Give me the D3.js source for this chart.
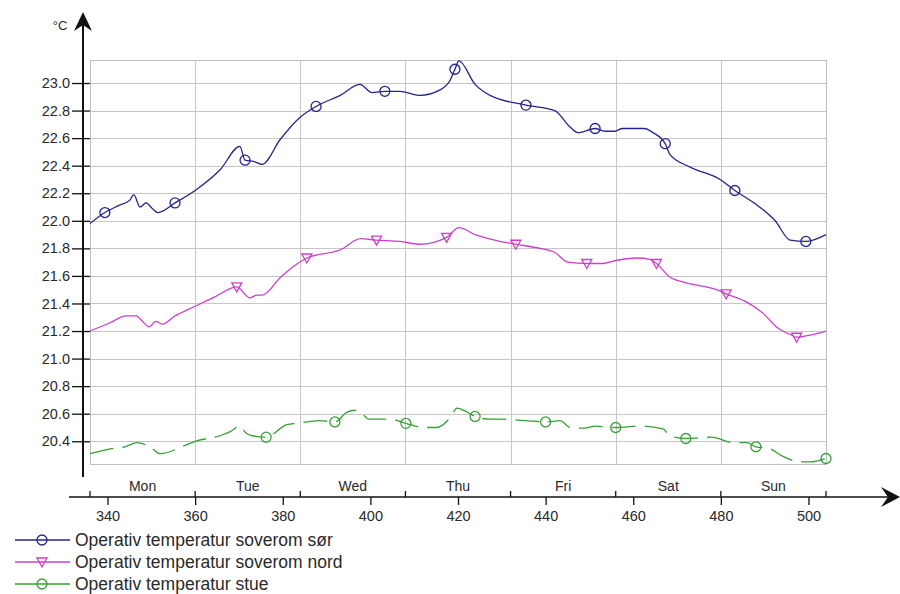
<!DOCTYPE html>
<html>
<head>
<meta charset="utf-8">
<script src="https://cdn.jsdelivr.net/npm/d3@7"></script>
<style>
  body { margin:0; background:#fff; }
  svg text { font-family: "Liberation Sans", Arial, sans-serif; fill:#2a2a2a; }
</style>
</head>
<body>
<svg id="chart" width="900" height="594"></svg>
<script>
// hours since start of the period, temperatures in °C
const sorHrs  = [336, 339.4, 342.5, 345.1, 346.0, 347.4, 348.8, 350.2, 351.5, 355.4, 360, 365.7, 370.2, 371.4, 373.5, 375.3, 379.4, 383.9, 387.6, 393.1, 397.6, 400.4, 403.3, 406.8, 411.3, 415.9, 418.2, 419.3, 420.2, 423.9, 427.3, 435.5, 442.1, 445.6, 447.4, 451.3, 453.5, 455.8, 457.5, 462.5, 464.5, 467.3, 468.4, 473.0, 479.8, 483.2, 488.0, 492.4, 495.8, 499.4, 504];
const sorTemp = [21.98, 22.06, 22.11, 22.15, 22.19, 22.10, 22.13, 22.09, 22.06, 22.13, 22.22, 22.37, 22.54, 22.44, 22.43, 22.41, 22.59, 22.75, 22.83, 22.91, 22.99, 22.93, 22.94, 22.94, 22.91, 22.95, 23.02, 23.10, 23.16, 22.99, 22.91, 22.84, 22.80, 22.68, 22.64, 22.67, 22.65, 22.65, 22.67, 22.67, 22.64, 22.56, 22.48, 22.39, 22.30, 22.22, 22.12, 22.00, 21.86, 21.85, 21.90];
const sorMarks = [339.4, 355.4, 371.4, 387.6, 403.3, 419.3, 435.5, 451.3, 467.3, 483.2, 499.4];

const nordHrs  = [336, 340.6, 344.2, 346.5, 348.0, 349.5, 351.0, 352.5, 355.4, 360, 364.6, 369.5, 372.5, 374.0, 375.3, 379.5, 382.5, 385.5, 393.2, 397.8, 401.4, 406.8, 411.3, 417.4, 420.2, 423.9, 428.4, 433.2, 438.7, 442.1, 445.1, 449.4, 453.1, 455.8, 460.8, 463.8, 465.3, 468.4, 472.2, 479.0, 481.2, 485.9, 489.6, 492.7, 496.2, 497.3, 500.3, 504];
const nordTemp = [21.20, 21.26, 21.31, 21.31, 21.27, 21.23, 21.27, 21.25, 21.31, 21.38, 21.45, 21.52, 21.44, 21.46, 21.46, 21.59, 21.67, 21.73, 21.79, 21.87, 21.86, 21.85, 21.83, 21.88, 21.95, 21.90, 21.86, 21.83, 21.80, 21.77, 21.70, 21.69, 21.69, 21.71, 21.73, 21.72, 21.69, 21.59, 21.55, 21.50, 21.47, 21.41, 21.33, 21.23, 21.17, 21.155, 21.17, 21.20];
const nordMarks = [369.5, 385.5, 401.4, 417.4, 433.2, 449.4, 465.3, 481.2, 497.3];

const stueHrs  = [336, 341.7, 344.0, 346.7, 349.7, 352.0, 357.7, 360, 365.7, 368.0, 370.2, 371.6, 373.0, 376.2, 380.9, 383.2, 388.5, 391.9, 394.6, 396.5, 398.8, 399.5, 404.5, 408.1, 412.0, 415.1, 418.2, 419.8, 421.6, 423.9, 427.3, 429.6, 435.3, 440.0, 443.3, 445.6, 449.0, 451.3, 456.0, 461.5, 466.8, 468.4, 472.0, 477.9, 482.8, 485.9, 488.0, 490.8, 494.2, 498.1, 500.4, 504.0];
const stueTemp = [20.31, 20.35, 20.36, 20.39, 20.36, 20.31, 20.37, 20.40, 20.44, 20.47, 20.51, 20.46, 20.44, 20.43, 20.52, 20.53, 20.55, 20.54, 20.61, 20.625, 20.58, 20.56, 20.56, 20.53, 20.50, 20.50, 20.57, 20.64, 20.62, 20.58, 20.56, 20.56, 20.55, 20.54, 20.55, 20.50, 20.495, 20.51, 20.50, 20.51, 20.49, 20.44, 20.42, 20.43, 20.39, 20.39, 20.36, 20.35, 20.29, 20.25, 20.25, 20.275];
const stueMarks = [376.2, 391.9, 408.1, 423.9, 440.0, 456.0, 472.0, 488.0, 504.0];

const seriesNames = ['Operativ temperatur soverom sør', 'Operativ temperatur soverom nord', 'Operativ temperatur stue'];
const dayNames = ['Mon', 'Tue', 'Wed', 'Thu', 'Fri', 'Sat', 'Sun'];
const dayStarts = [336, 360, 384, 408, 432, 456, 480, 504];
const hourTicks = [340, 360, 380, 400, 420, 440, 460, 480, 500];
const tempTicks = [20.4, 20.6, 20.8, 21.0, 21.2, 21.4, 21.6, 21.8, 22.0, 22.2, 22.4, 22.6, 22.8, 23.0];
const yUnit = '°C';

const svg = d3.select('#chart');
const x = d3.scaleLinear().domain([336, 504]).range([90, 826]);
const y = d3.scaleLinear().domain([20.235, 23.167]).range([464, 60]);
const X0 = 90, X1 = 826, Y0 = 60, Y1 = 464;

// grid
const grid = svg.append('g').attr('stroke', '#c6c6c6').attr('stroke-width', 1);
tempTicks.forEach(t => grid.append('line')
  .attr('x1', X0).attr('x2', X1).attr('y1', Math.round(y(t)) + .5).attr('y2', Math.round(y(t)) + .5));
dayStarts.slice(1, -1).forEach(h => grid.append('line')
  .attr('y1', Y0).attr('y2', Y1).attr('x1', Math.round(x(h)) + .5).attr('x2', Math.round(x(h)) + .5));
svg.append('rect').attr('x', X0 + .5).attr('y', Y0 + .5).attr('width', X1 - X0).attr('height', Y1 - Y0)
  .attr('fill', 'none').attr('stroke', '#bdbdbd');

// y axis
const yAx = svg.append('g').attr('transform', `translate(${X0},0)`)
  .call(d3.axisLeft(y).tickValues(tempTicks).tickSize(18).tickPadding(2).tickFormat(d3.format('.1f')));
yAx.select('.domain').remove();
yAx.selectAll('line').attr('stroke', '#111').attr('stroke-width', 1.3);
yAx.selectAll('text').style('font-size', '14.5px').attr('fill', '#333');
svg.append('line').attr('x1', 83).attr('x2', 83).attr('y1', 477).attr('y2', 20)
  .attr('stroke', '#111').attr('stroke-width', 2);
svg.append('path').attr('d', 'M83,12 L92,31 L83,25 L74,31 Z').attr('fill', '#111');
svg.append('text').attr('x', 60).attr('y', 30).attr('text-anchor', 'middle')
  .style('font-size', '13px').text(yUnit);

// x axis
const XA = 497;
svg.append('line').attr('x1', 69).attr('x2', 892).attr('y1', XA).attr('y2', XA)
  .attr('stroke', '#111').attr('stroke-width', 1.6);
svg.append('path').attr('d', `M900,${XA} L881,${XA - 10} L888,${XA} L881,${XA + 10} Z`).attr('fill', '#111');
const xAx = svg.append('g').attr('transform', `translate(0,${XA})`)
  .call(d3.axisBottom(x).tickValues(hourTicks).tickSize(8).tickPadding(6));
xAx.select('.domain').remove();
xAx.selectAll('line').attr('stroke', '#111').attr('stroke-width', 1.3);
xAx.selectAll('text').style('font-size', '14.5px').attr('fill', '#333');
dayStarts.forEach(h => svg.append('line')
  .attr('x1', x(h)).attr('x2', x(h)).attr('y1', XA - 6).attr('y2', XA)
  .attr('stroke', '#111').attr('stroke-width', 1.3));
dayNames.forEach((d, i) => svg.append('text')
  .attr('x', x(dayStarts[i] + 12)).attr('y', XA - 6).attr('text-anchor', 'middle')
  .style('font-size', '14px').attr('fill', '#333').text(d));

// series
const series = [
  { hrs: sorHrs,  temp: sorTemp,  marks: sorMarks,  color: '#25258c', mark: 'circle',   dash: null },
  { hrs: nordHrs, temp: nordTemp, marks: nordMarks, color: '#cc3fcc', mark: 'triangle', dash: null },
  { hrs: stueHrs, temp: stueTemp, marks: stueMarks, color: '#36a036', mark: 'circle',   dash: '24,9' }
];
const line = d3.line().x(d => x(d[0])).y(d => y(d[1])).curve(d3.curveMonotoneX);
const triPath = 'M-5,-4 L5,-4 L0,5 Z';

function drawMarker(g, cx, cy, s) {
  if (s.mark === 'circle') {
    g.append('circle').attr('cx', cx).attr('cy', cy).attr('r', 5)
      .attr('fill', 'none').attr('stroke', s.color).attr('stroke-width', 1.3);
  } else {
    g.append('path').attr('d', triPath).attr('transform', `translate(${cx},${cy})`)
      .attr('fill', 'none').attr('stroke', s.color).attr('stroke-width', 1.3);
  }
}

series.forEach(s => {
  const pts = s.hrs.map((h, i) => [h, s.temp[i]]);
  svg.append('path').datum(pts)
    .attr('fill', 'none').attr('stroke', s.color).attr('stroke-width', 1.3)
    .attr('stroke-dasharray', s.dash).attr('d', line);
  const g = svg.append('g');
  s.marks.forEach(h => {
    const i = s.hrs.indexOf(h);
    drawMarker(g, x(h), y(s.temp[i]), s);
  });
});

// legend
seriesNames.forEach((name, i) => {
  const s = series[i], ly = 540 + i * 22;
  svg.append('line').attr('x1', 15).attr('x2', 70).attr('y1', ly).attr('y2', ly)
    .attr('stroke', s.color).attr('stroke-width', 1.3);
  drawMarker(svg, 42, ly, s);
  svg.append('text').attr('x', 75).attr('y', ly).attr('dy', '0.35em')
    .style('font-size', '17.5px').text(name);
});
</script>
</body>
</html>
